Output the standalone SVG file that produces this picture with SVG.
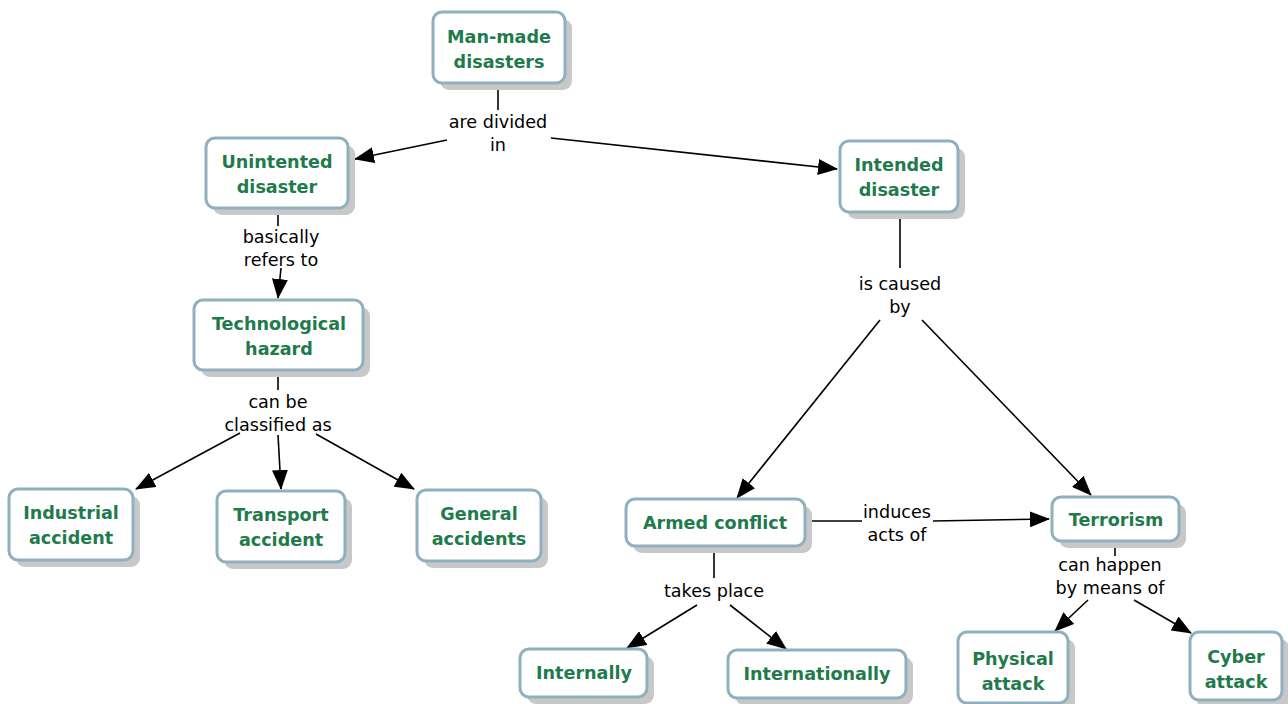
<svg xmlns="http://www.w3.org/2000/svg" width="1288" height="704" viewBox="0 0 1288 704">
  <defs>
    <style>
      .box { fill: #ffffff; stroke: #8fb0bf; stroke-width: 3; }
      .shadow { fill: #c8c8c8; }
      .name { font-family: "DejaVu Sans", Verdana, sans-serif; font-weight: bold; font-size: 17.6px; fill: #1f7a4c; text-anchor: middle; }
      .link { font-family: "DejaVu Sans", Verdana, sans-serif; font-size: 17.6px; fill: #000000; text-anchor: middle; }
      .edge { stroke: #000000; stroke-width: 1.6; fill: none; }
      .arrow { stroke: #000000; stroke-width: 1.6; fill: none; marker-end: url(#head); }
    </style>
    <marker id="head" viewBox="0 0 20 16" refX="19" refY="8" markerWidth="20" markerHeight="16" markerUnits="userSpaceOnUse" orient="auto">
      <path d="M0,0 L20,8 L0,16 Z" fill="#000000"/>
    </marker>
  </defs>
  <rect width="1288" height="704" fill="#ffffff"/>

  <g id="connectors">
    <!-- Man-made disasters -> are divided in -->
    <line class="edge" x1="498" y1="88" x2="498" y2="110"/>
    <line class="arrow" x1="447" y1="140" x2="355" y2="159"/>
    <line class="arrow" x1="551" y1="138" x2="837" y2="169"/>
    <!-- Unintented disaster -> basically refers to -->
    <line class="edge" x1="278" y1="214" x2="278" y2="226"/>
    <line class="arrow" x1="281" y1="268" x2="278" y2="298"/>
    <!-- Technological hazard -> can be classified as -->
    <line class="edge" x1="278" y1="377" x2="278" y2="390"/>
    <line class="arrow" x1="240" y1="433" x2="136" y2="489"/>
    <line class="arrow" x1="278" y1="435" x2="281" y2="489"/>
    <line class="arrow" x1="316" y1="434" x2="414" y2="489"/>
    <!-- Intended disaster -> is caused by -->
    <line class="edge" x1="900" y1="218" x2="900" y2="268"/>
    <line class="arrow" x1="880" y1="320" x2="737" y2="498"/>
    <line class="arrow" x1="922" y1="320" x2="1091" y2="495"/>
    <!-- Armed conflict -> induces acts of -->
    <line class="edge" x1="811" y1="521" x2="862" y2="521"/>
    <line class="arrow" x1="933" y1="521" x2="1049" y2="519"/>
    <!-- Armed conflict -> takes place -->
    <line class="edge" x1="714" y1="551" x2="714" y2="578"/>
    <line class="arrow" x1="697" y1="605" x2="627" y2="648"/>
    <line class="arrow" x1="730" y1="605" x2="786" y2="649"/>
    <!-- Terrorism -> can happen by means of -->
    <line class="edge" x1="1115" y1="548" x2="1115" y2="556"/>
    <line class="arrow" x1="1088" y1="600" x2="1055" y2="631"/>
    <line class="arrow" x1="1134" y1="600" x2="1191" y2="633"/>

    <text class="link" x="498" y="128">are divided</text>
    <text class="link" x="498" y="151">in</text>
    <text class="link" x="281" y="243">basically</text>
    <text class="link" x="281" y="266">refers to</text>
    <text class="link" x="278" y="408">can be</text>
    <text class="link" x="278" y="431">classified as</text>
    <text class="link" x="900" y="290">is caused</text>
    <text class="link" x="900" y="313">by</text>
    <text class="link" x="897" y="518">induces</text>
    <text class="link" x="897" y="541">acts of</text>
    <text class="link" x="714" y="597">takes place</text>
    <text class="link" x="1110" y="571">can happen</text>
    <text class="link" x="1110" y="594">by means of</text>
  </g>

  <g id="man-made">
    <rect class="shadow" x="440" y="19" width="132" height="71" rx="9"/>
    <rect class="box" x="433" y="12" width="132" height="71" rx="9"/>
    <text class="name" x="499" y="43">Man-made</text>
    <text class="name" x="499" y="68">disasters</text>
  </g>
  <g id="unintented">
    <rect class="shadow" x="213" y="145" width="142" height="70" rx="9"/>
    <rect class="box" x="206" y="138" width="142" height="70" rx="9"/>
    <text class="name" x="277" y="168">Unintented</text>
    <text class="name" x="277" y="193">disaster</text>
  </g>
  <g id="intended">
    <rect class="shadow" x="847" y="148" width="118" height="71" rx="9"/>
    <rect class="box" x="840" y="141" width="118" height="71" rx="9"/>
    <text class="name" x="899" y="171">Intended</text>
    <text class="name" x="899" y="196">disaster</text>
  </g>
  <g id="technological">
    <rect class="shadow" x="201" y="307" width="169" height="70" rx="9"/>
    <rect class="box" x="194" y="300" width="169" height="70" rx="9"/>
    <text class="name" x="279" y="330">Technological</text>
    <text class="name" x="279" y="355">hazard</text>
  </g>
  <g id="industrial">
    <rect class="shadow" x="16" y="496" width="124" height="71" rx="9"/>
    <rect class="box" x="9" y="489" width="124" height="71" rx="9"/>
    <text class="name" x="71" y="519">Industrial</text>
    <text class="name" x="71" y="544">accident</text>
  </g>
  <g id="transport">
    <rect class="shadow" x="224" y="498" width="128" height="71" rx="9"/>
    <rect class="box" x="217" y="491" width="128" height="71" rx="9"/>
    <text class="name" x="281" y="521">Transport</text>
    <text class="name" x="281" y="546">accident</text>
  </g>
  <g id="general">
    <rect class="shadow" x="424" y="497" width="124" height="71" rx="9"/>
    <rect class="box" x="417" y="490" width="124" height="71" rx="9"/>
    <text class="name" x="479" y="520">General</text>
    <text class="name" x="479" y="545">accidents</text>
  </g>
  <g id="armed-conflict">
    <rect class="shadow" x="633" y="506" width="179" height="47" rx="9"/>
    <rect class="box" x="626" y="499" width="179" height="47" rx="9"/>
    <text class="name" x="715" y="529">Armed conflict</text>
  </g>
  <g id="terrorism">
    <rect class="shadow" x="1059" y="504" width="127" height="44" rx="9"/>
    <rect class="box" x="1052" y="497" width="127" height="44" rx="9"/>
    <text class="name" x="1116" y="526">Terrorism</text>
  </g>
  <g id="internally">
    <rect class="shadow" x="527" y="656" width="127" height="48" rx="9"/>
    <rect class="box" x="520" y="649" width="127" height="48" rx="9"/>
    <text class="name" x="584" y="679">Internally</text>
  </g>
  <g id="internationally">
    <rect class="shadow" x="735" y="657" width="178" height="48" rx="9"/>
    <rect class="box" x="728" y="650" width="178" height="48" rx="9"/>
    <text class="name" x="817" y="680">Internationally</text>
  </g>
  <g id="physical">
    <rect class="shadow" x="965" y="639" width="110" height="71" rx="9"/>
    <rect class="box" x="958" y="632" width="110" height="71" rx="9"/>
    <text class="name" x="1013" y="665">Physical</text>
    <text class="name" x="1013" y="690">attack</text>
  </g>
  <g id="cyber">
    <rect class="shadow" x="1197" y="639" width="92" height="70" rx="9"/>
    <rect class="box" x="1190" y="632" width="92" height="68" rx="9"/>
    <text class="name" x="1236" y="663">Cyber</text>
    <text class="name" x="1236" y="688">attack</text>
  </g>
</svg>
